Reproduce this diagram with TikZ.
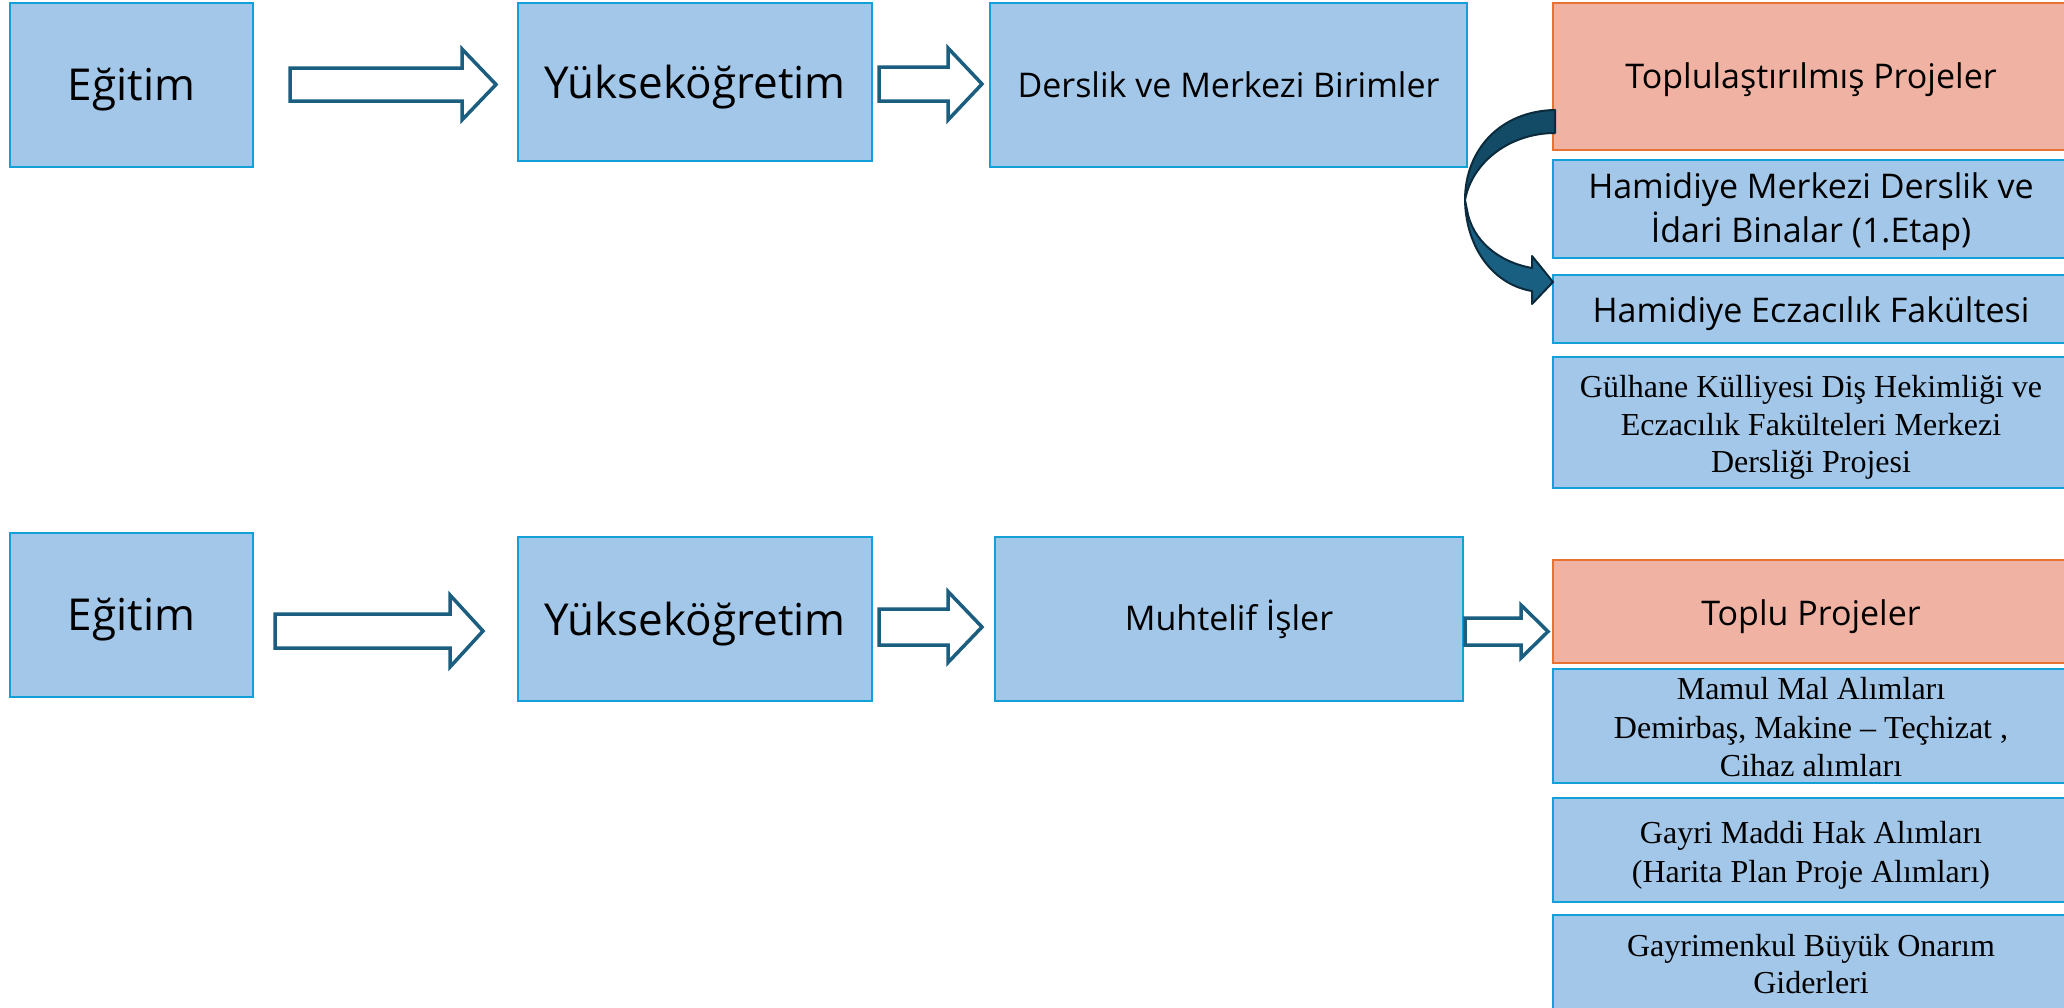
\documentclass[tikz,border=0pt]{standalone}
\usepackage{fontspec}
\setmainfont{Liberation Serif}
\newfontfamily\osans{Open Sans}
\usetikzlibrary{calc}
\definecolor{boxfill}{HTML}{A3C7E8}
\definecolor{boxline}{HTML}{13A0D8}
\definecolor{orfill}{HTML}{F0B2A3}
\definecolor{orline}{HTML}{E97132}
\definecolor{arline}{HTML}{1B5E80}
\definecolor{cdark}{HTML}{134A66}
\definecolor{clight}{HTML}{185F82}
\definecolor{cedge}{HTML}{0B2B3D}
\tikzset{
 box/.style={draw=boxline, fill=boxfill, line width=2.5pt, inner sep=0pt},
 obox/.style={box, draw=orline, fill=orfill},
 txt/.style={inner sep=0pt, anchor=base, text=black},
 big/.style={txt, font=\osans\fontsize{44}{52}\selectfont},
 mid/.style={txt, font=\osans\fontsize{34}{44}\selectfont},
 ser/.style={txt, font=\fontsize{32}{38}\selectfont},
 barrow/.style={draw=arline, fill=white, line width=3.5pt, line join=miter},
 carrow/.style={draw=cedge, line width=2pt, line join=round},
}
% block arrow: x1, xb, x2, yc, shaft half, head half
\newcommand{\blockarr}[6]{%
  \draw[barrow] ({#1},{#4-#5}) -- ({#2},{#4-#5}) -- ({#2},{#4-#6}) -- ({#3},{#4})
    -- ({#2},{#4+#6}) -- ({#2},{#4+#5}) -- ({#1},{#4+#5}) -- cycle;}
\begin{document}
\begin{tikzpicture}[x=1pt,y=-1pt]
\useasboundingbox (0,0) rectangle (2064,1007);
\fill[white] (0,0) rectangle (2064,1007);
\begin{scope}
\clip (0,0) rectangle (2064,1007);
% top row boxes
\node[box, minimum width=243pt, minimum height=164pt] (e1) at (131.5,85) {};
\node[box, minimum width=354pt, minimum height=158pt] (y1) at (695,82) {};
\node[box, minimum width=477pt, minimum height=164pt] (d1) at (1228.5,85) {};
\node[obox, minimum width=516pt, minimum height=147pt] (t1) at (1811,76.5) {};
\node[box, minimum width=516pt, minimum height=98pt] (h1) at (1811,209) {};
\node[box, minimum width=516pt, minimum height=68pt] (h2) at (1811,309) {};
\node[box, minimum width=516pt, minimum height=131pt] (g1) at (1811,422.5) {};
% top row texts
\node[big] (e1t) at ($(e1.center)+(0,15)$) {Eğitim};
\node[big] (y1t) at ($(y1.center)+(0,16)$) {Yükseköğretim};
\node[mid] (d1t) at ($(d1.center)+(0,12)$) {Derslik ve Merkezi Birimler};
\node[mid] (t1t) at ($(t1.center)+(0,11.5)$) {Toplulaştırılmış Projeler};
\node[mid] (h1a) at ($(h1.center)+(0,-11)$) {Hamidiye Merkezi Derslik ve};
\node[mid] (h1b) at ($(h1.center)+(0,33)$) {İdari Binalar (1.Etap)};
\node[mid] (h2t) at ($(h2.center)+(0,13)$) {Hamidiye Eczacılık Fakültesi};
\node[ser] (g1a) at ($(g1.center)+(0,-25.5)$) {Gülhane Külliyesi Diş Hekimliği ve};
\node[ser] (g1b) at ($(g1.center)+(0,12.5)$) {Eczacılık Fakülteleri Merkezi};
\node[ser] (g1c) at ($(g1.center)+(0,49.5)$) {Dersliği Projesi};
\blockarr{290}{462}{496}{84.5}{16.5}{35.5}
\blockarr{879}{948}{982}{84}{17}{36}
% curved arrow
\path[carrow, fill=cdark] (1555,110) .. controls (1500,111) and (1465,150) .. (1465,200)
  .. controls (1472,162) and (1510,133) .. (1555,133) -- cycle;
\path[carrow, fill=clight] (1465,200) .. controls (1466,250) and (1495,285) .. (1532,291)
  -- (1532,304) -- (1553,282) -- (1532,256) -- (1532,268)
  .. controls (1498,262) and (1472,240) .. (1467,210) -- cycle;
% bottom row boxes
\node[box, minimum width=243pt, minimum height=164pt] (e2) at (131.5,615) {};
\node[box, minimum width=354pt, minimum height=164pt] (y2) at (695,619) {};
\node[box, minimum width=468pt, minimum height=164pt] (m2) at (1229,619) {};
\node[obox, minimum width=516pt, minimum height=103pt] (tp) at (1811,611.5) {};
\node[box, minimum width=516pt, minimum height=114pt] (mm) at (1811,726) {};
\node[box, minimum width=516pt, minimum height=104pt] (gm) at (1811,850) {};
\node[box, minimum width=516pt, minimum height=105pt] (gb) at (1811,967.5) {};
% bottom row texts
\node[big] (e2t) at ($(e2.center)+(0,15)$) {Eğitim};
\node[big] (y2t) at ($(y2.center)+(0,16)$) {Yükseköğretim};
\node[mid] (m2t) at ($(m2.center)+(0,11)$) {Muhtelif İşler};
\node[mid] (tpt) at ($(tp.center)+(0,13.5)$) {Toplu Projeler};
\node[ser] (mma) at ($(mm.center)+(0,-27)$) {Mamul Mal Alımları};
\node[ser] (mmb) at ($(mm.center)+(0,12)$) {Demirbaş, Makine – Teçhizat ,};
\node[ser] (mmc) at ($(mm.center)+(0,50)$) {Cihaz alımları};
\node[ser] (gma) at ($(gm.center)+(0,-7)$) {Gayri Maddi Hak Alımları};
\node[ser] (gmb) at ($(gm.center)+(0,32)$) {(Harita Plan Proje Alımları)};
\node[ser] (gba) at ($(gb.center)+(0,-11.5)$) {Gayrimenkul Büyük Onarım};
\node[ser] (gbb) at ($(gb.center)+(0,25.5)$) {Giderleri};
\blockarr{275}{450}{483}{631}{17}{36}
\blockarr{879}{948}{982}{627}{18}{35.5}
\blockarr{1465}{1521}{1548}{631.5}{13.5}{26.5}
\end{scope}
\end{tikzpicture}
\end{document}
